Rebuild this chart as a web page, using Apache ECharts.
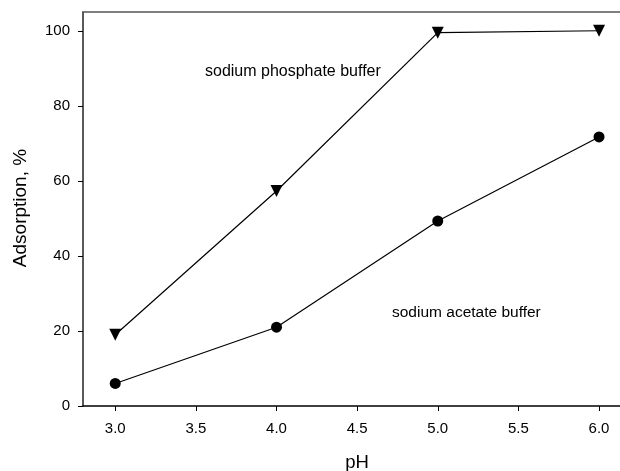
<!DOCTYPE html>
<html><head><meta charset="utf-8">
<script src="https://cdn.jsdelivr.net/npm/echarts@6/dist/echarts.min.js"></script>
<style>html,body{margin:0;padding:0;background:#fff}#c{width:620px;height:471px}</style>
</head><body><div id="c"></div>
<script>
const phValues = [3.0, 4.0, 5.0, 6.0];
const phosphate = [19.0, 57.3, 99.5, 100.0];
const acetate = [6.0, 21.0, 49.3, 71.7];
const xTicks = [3.0, 3.5, 4.0, 4.5, 5.0, 5.5, 6.0];
const yTicks = [0, 20, 40, 60, 80, 100];
const labelPhosphate = 'sodium phosphate buffer';
const labelAcetate = 'sodium acetate buffer';
const xTitle = 'pH';
const yTitle = 'Adsorption, %';

const font = '"Liberation Sans", Arial, sans-serif';
const chart = echarts.init(document.getElementById('c'), null, {renderer: 'canvas'});
chart.setOption({
  animation: false,
  backgroundColor: '#fff',
  grid: {left: 83, top: 12, bottom: 65, right: 0, show: false},
  xAxis: [{
    type: 'value', min: 2.8, max: 6.13,
    axisLine: {lineStyle: {color: '#000', width: 1.5}},
    axisTick: {show: true, length: 5, inside: false, lineStyle: {color: '#000'}, customValues: xTicks},
    axisLabel: {fontFamily: font, fontSize: 15, color: '#000', margin: 15, customValues: xTicks, formatter: v => v.toFixed(1)},
    splitLine: {show: false}
  }, {
    type: 'value', position: 'top', min: 2.8, max: 6.13,
    axisLine: {show: true, lineStyle: {color: '#555', width: 1.5}},
    axisTick: {show: false}, axisLabel: {show: false}, splitLine: {show: false}
  }],
  yAxis: {
    type: 'value', min: 0, max: 105,
    axisLine: {show: true, lineStyle: {color: '#222', width: 1.5}},
    axisTick: {show: true, length: 5, lineStyle: {color: '#000'}, customValues: yTicks},
    axisLabel: {fontFamily: font, fontSize: 15, color: '#000', margin: 13, customValues: yTicks},
    splitLine: {show: false}
  },
  series: [
    {type: 'line', data: phValues.map((x, i) => [x, phosphate[i]]),
     symbol: 'triangle', symbolRotate: 180, symbolSize: 12,
     itemStyle: {color: '#000'}, lineStyle: {color: '#000', width: 1.2}},
    {type: 'line', data: phValues.map((x, i) => [x, acetate[i]]),
     symbol: 'circle', symbolSize: 11,
     itemStyle: {color: '#000'}, lineStyle: {color: '#000', width: 1.2}}
  ],
  graphic: [
    {type: 'text', x: 205, y: 72, style: {text: labelPhosphate, fontFamily: font, fontSize: 16, fill: '#000', verticalAlign: 'middle'}},
    {type: 'text', x: 392, y: 313, style: {text: labelAcetate, fontFamily: font, fontSize: 15.5, fill: '#000', verticalAlign: 'middle'}},
    {type: 'text', x: 357, y: 463, style: {text: xTitle, fontFamily: font, fontSize: 18.5, fill: '#000', align: 'center', verticalAlign: 'middle'}},
    {type: 'text', x: 21, y: 208, rotation: Math.PI / 2, style: {text: yTitle, fontFamily: font, fontSize: 19, fill: '#000', align: 'center', verticalAlign: 'middle'}}
  ]
});
</script></body></html>
